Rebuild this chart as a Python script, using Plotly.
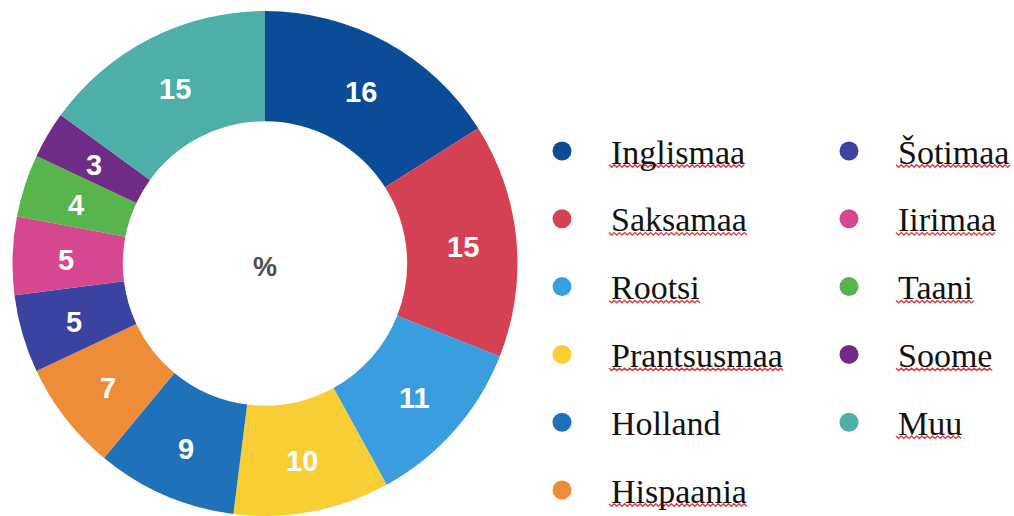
import math
import plotly.graph_objects as go

labels = ["Inglismaa", "Saksamaa", "Rootsi", "Prantsusmaa", "Holland", "Hispaania",
          "Šotimaa", "Iirimaa", "Taani", "Soome", "Muu"]
values = [16, 15, 11, 10, 9, 7, 5, 5, 4, 3, 15]
colors = ["#0A4C98", "#D44154", "#3A9DDF", "#F9CE34", "#1F72BA", "#EF8C38",
          "#3A44A0", "#D5478F", "#57B54B", "#6E2C86", "#4DAFA8"]
spellcheck = [True, True, True, True, False, True, True, True, True, True, True]
center_label = "%"

W, H = 1014, 516

# Times / Liberation Serif advance widths (em) for squiggle length estimation
CW = {"I": .333, "n": .5, "g": .5, "l": .278, "i": .278, "s": .389, "m": .778, "a": .444,
      "S": .556, "k": .5, "R": .667, "o": .5, "t": .278, "P": .556, "r": .333, "u": .5,
      "H": .722, "p": .5, "Š": .556, "T": .611, "e": .444, "M": .889, "d": .5}
LEG_SIZE = 34

# pie geometry (pixels)
PX0, PX1, PY0, PY1 = 12, 518, 11, 516
PCX, PCY = (PX0 + PX1) / 2, (PY0 + PY1) / 2
LABEL_R = 199

fig = go.Figure()
fig.add_trace(go.Pie(
    labels=labels, values=values, sort=False, direction="clockwise", rotation=0,
    hole=0.563,
    marker=dict(colors=colors, line=dict(width=0)),
    textinfo="none",
    showlegend=False, hoverinfo="label+value",
    domain=dict(x=[PX0 / W, PX1 / W], y=[1 - PY1 / H, 1 - PY0 / H]),
))

annotations = [dict(
    x=PCX / W, y=1 - (PCY + 3) / H, xref="paper", yref="paper", text=center_label, showarrow=False,
    font=dict(family="Liberation Sans, Arial, sans-serif", size=27, color="#4d4d4d", weight="bold"),
    xanchor="center", yanchor="middle")]

# value labels at the middle of each ring segment
total = sum(values)
cum = 0
for v in values:
    mid = math.radians((cum + v / 2) / total * 360)
    cum += v
    lx = PCX + LABEL_R * math.sin(mid)
    ly = PCY - LABEL_R * math.cos(mid) + 2.5
    annotations.append(dict(
        x=lx / W, y=1 - ly / H, xref="paper", yref="paper", text=str(v), showarrow=False,
        xanchor="center", yanchor="middle",
        font=dict(family="Liberation Sans, Arial, sans-serif", size=29, color="white", weight="bold")))

shapes = []
col_marker_x = [562, 849]
col_text_x = [609, 896]
row_y0, row_step, rows = 151, 67.8, 6
r = 9.5
for i, (lab, col) in enumerate(zip(labels, colors)):
    c, rr = (0, i) if i < rows else (1, i - rows)
    cy = row_y0 + rr * row_step
    cx = col_marker_x[c]
    shapes.append(dict(type="circle", xref="paper", yref="paper",
                       x0=(cx - r) / W, x1=(cx + r) / W,
                       y0=1 - (cy + r) / H, y1=1 - (cy - r) / H,
                       fillcolor=col, line=dict(width=0)))
    annotations.append(dict(
        x=col_text_x[c] / W, y=1 - (cy + 1) / H, xref="paper", yref="paper",
        text=lab, showarrow=False, xanchor="left", yanchor="middle",
        font=dict(family="Liberation Serif, Times New Roman, serif", size=LEG_SIZE, color="#111111")))
    if spellcheck[i]:
        tw = sum(CW.get(ch, .5) for ch in lab) * LEG_SIZE
        x0 = col_text_x[c]
        yb = cy + 15
        pts = []
        k = 0
        x = x0
        while x <= x0 + tw + 3:
            pts.append((x, yb + (1.2 if k % 2 else -1.2)))
            x += 2.6
            k += 1
        path = "M " + " L ".join(f"{px / W:.5f},{1 - py / H:.5f}" for px, py in pts)
        shapes.append(dict(type="path", xref="paper", yref="paper", path=path,
                           line=dict(color="#E23A3F", width=1.4)))

fig.update_layout(
    width=W, height=H, margin=dict(l=0, r=0, t=0, b=0),
    paper_bgcolor="white", plot_bgcolor="white",
    annotations=annotations, shapes=shapes,
)

fig.write_html("out.html", config={"displayModeBar": False},
               post_script="document.body.style.margin='0';document.body.style.overflow='hidden';")
